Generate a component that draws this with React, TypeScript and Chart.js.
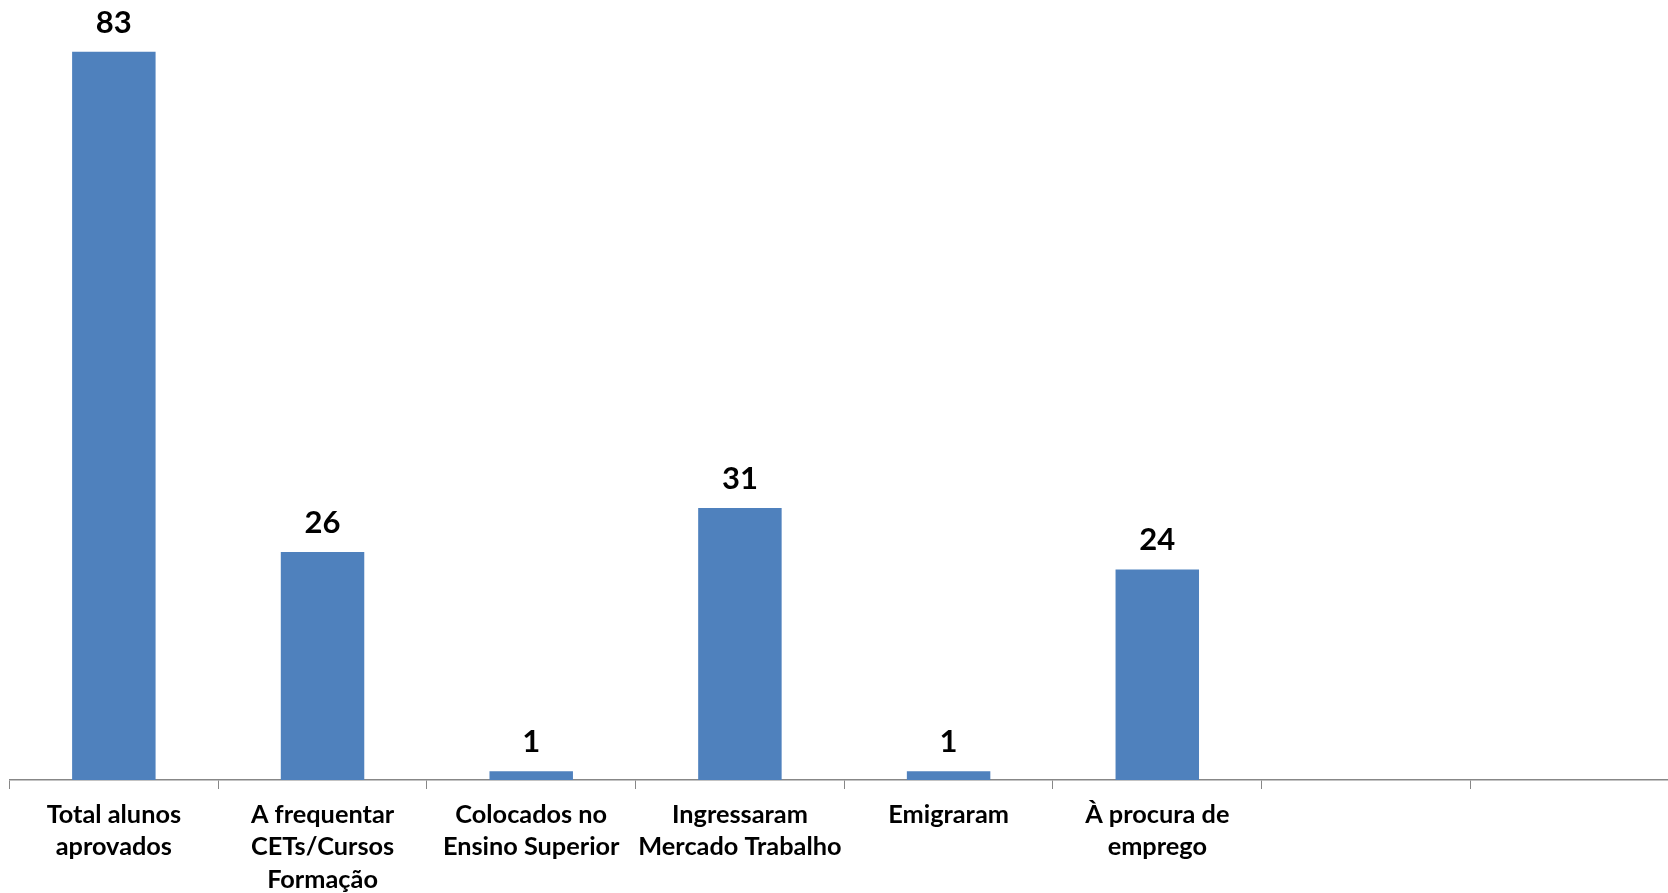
import React, { useEffect, useRef } from "react";
import { Chart, registerables } from "chart.js";

Chart.register(...registerables);

const categories: (string | string[])[] = [
  ["Total alunos", "aprovados"],
  ["A frequentar", "CETs/Cursos", "Formação"],
  ["Colocados no", "Ensino Superior"],
  ["Ingressaram", "Mercado Trabalho"],
  ["Emigraram"],
  ["À procura de", "emprego"],
  "",
  "",
];
const values: (number | null)[] = [83, 26, 1, 31, 1, 24, null, null];

const FONT = "Lato, 'Open Sans', sans-serif";

const valueLabels = {
  id: "valueLabels",
  afterDatasetsDraw(chart: any) {
    const ctx = chart.ctx;
    const meta = chart.getDatasetMeta(0);
    ctx.save();
    ctx.font = `bold 31px ${FONT}`;
    ctx.fillStyle = "#000000";
    ctx.textAlign = "center";
    ctx.textBaseline = "middle";
    meta.data.forEach((bar: any, i: number) => {
      const v = values[i];
      if (v === null || v === undefined) return;
      ctx.fillText(String(v), bar.x, bar.y - 29);
    });
    ctx.restore();
  },
};

export default function App() {
  const ref = useRef<HTMLCanvasElement | null>(null);
  useEffect(() => {
    if (!ref.current) return;
    const chart = new Chart(ref.current, {
      type: "bar",
      data: {
        labels: categories,
        datasets: [
          {
            data: values,
            backgroundColor: "#4F81BD",
            borderWidth: 0,
            barPercentage: 0.4,
            categoryPercentage: 1,
          },
        ],
      },
      options: {
        animation: false,
        responsive: false,
        maintainAspectRatio: false,
        layout: { padding: { left: 1.5, right: 0, top: 0, bottom: 0 } },
        plugins: {
          legend: { display: false },
          tooltip: { enabled: false },
          title: { display: false },
        },
        scales: {
          x: {
            offset: true,
            grid: {
              offset: true,
              drawOnChartArea: false,
              drawTicks: true,
              tickLength: 9,
              color: "#878787",
              lineWidth: 1,
            },
            border: { display: true, color: "#878787", width: 1.5 },
            ticks: {
              autoSkip: false,
              maxRotation: 0,
              minRotation: 0,
              padding: 9,
              color: "#000000",
              font: { family: FONT, weight: "bold", size: 25.3, lineHeight: 1.3 },
            },
            afterFit(scale: any) {
              scale.height = 113;
            },
          },
          y: {
            display: false,
            min: 0,
            max: 88,
          },
        },
      },
      plugins: [valueLabels],
    });
    return () => chart.destroy();
  }, []);

  return (
    <div
      style={{
        position: "fixed",
        left: 0,
        top: 0,
        width: 1668,
        height: 893,
        overflow: "hidden",
        background: "#ffffff",
      }}
    >
      <canvas
        ref={ref}
        width={1671}
        height={885}
        style={{ position: "absolute", left: 8, top: 8, width: 1671, height: 885 }}
      />
    </div>
  );
}
